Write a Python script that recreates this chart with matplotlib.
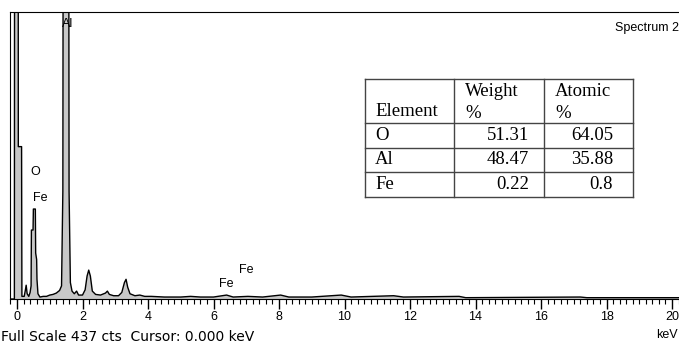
# EDS spectrum with composition table
import numpy as np
import matplotlib.pyplot as plt
from matplotlib.ticker import MultipleLocator

# spectrum outline (keV, counts); 2000 = off scale
energy = [-0.20, -0.08, -0.06, 0.03, 0.04, 0.14, 0.15, 0.22, 0.25, 0.28, 0.31, 0.36,
          0.40, 0.43, 0.44, 0.49, 0.50, 0.56, 0.57, 0.60, 0.61, 0.64, 0.70, 0.80, 0.90,
          1.00, 1.10, 1.20, 1.30, 1.36, 1.40, 1.44, 1.55, 1.59, 1.63, 1.68, 1.75,
          1.82, 1.88, 2.00, 2.08, 2.14, 2.19, 2.24, 2.30, 2.40, 2.55, 2.70, 2.76,
          2.82, 2.95, 3.10, 3.20, 3.28, 3.33, 3.38, 3.45, 3.60, 3.75, 3.90, 4.10,
          4.50, 5.00, 5.30, 5.60, 6.00, 6.40, 6.60, 7.05, 7.50, 8.05, 8.30, 9.00,
          9.90, 10.2, 11.5, 11.8, 13.5, 13.7, 17.2, 17.4, 20.3]
counts = [0, 0, 2000, 2000, 232, 232, 4, 4, 12, 21, 8, 4,
          10, 20, 105, 105, 137, 137, 70, 60, 30, 8, 3, 4, 4,
          6, 7, 9, 13, 20, 164, 2000, 2000, 164, 25, 12, 8,
          12, 6, 6, 14, 35, 44, 35, 12, 7, 6, 9, 12,
          7, 5, 5, 10, 25, 30, 18, 8, 5, 6, 4, 4,
          3, 3, 4, 3, 3, 6, 3, 4, 3, 6, 3, 3,
          6, 3, 5, 3, 4, 2, 3, 2, 2]

# peak labels
peak_labels = ['Al', 'O', 'Fe', 'Fe', 'Fe']
label_x = [1.55, 0.55, 0.72, 6.4, 7.0]
label_y = [410, 184, 144, 13, 35]

# quantification table
elements = ['O', 'Al', 'Fe']
weight_pct = ['51.31', '48.47', '0.22']
atomic_pct = ['64.05', '35.88', '0.8']

plt.rcParams['font.family'] = ['Liberation Sans', 'DejaVu Sans']

W, H = 679, 343
fig = plt.figure(figsize=(W / 100, H / 100), dpi=100)
x0, x1, ytop, ybase = 10, 681, 12, 299
ax = fig.add_axes([x0 / W, 1 - ybase / H, (x1 - x0) / W, (ybase - ytop) / H])

kev_per_px = 1 / 32.75
ax.set_xlim(-7 * kev_per_px, (x1 - 17) * kev_per_px)
ax.set_ylim(0, 437)

ax.fill_between(energy, counts, color='#c8c8c8', lw=0)
ax.plot(energy, counts, color='black', lw=1)

for s, xx, yy in zip(peak_labels, label_x, label_y):
    ax.text(xx, yy, s, fontsize=9, ha='center', va='bottom')

ax.text(0.997, 0.965, 'Spectrum 2', transform=ax.transAxes, fontsize=9,
        ha='right', va='top')

ax.spines['right'].set_visible(False)
ax.set_yticks([])
ax.xaxis.set_major_locator(MultipleLocator(2))
ax.xaxis.set_minor_locator(MultipleLocator(0.2))
ax.tick_params(axis='x', which='major', direction='out', length=7, width=1,
               labelsize=9, pad=2)
ax.tick_params(axis='x', which='minor', direction='out', length=3.5, width=0.8)

fig.text(1 / W, 1 - 337 / H, 'Full Scale 437 cts  Cursor: 0.000 keV', fontsize=10,
         family='DejaVu Sans', ha='left', va='center')
fig.text(678 / W, 1 - 335 / H, 'keV', fontsize=9, ha='right', va='center')

# table drawn in pixel coordinates
cols = [365, 454, 544, 633]
rows = [79, 123, 148, 172, 197]
line_kw = dict(color='#444444', lw=1, transform=None)
for cx in cols:
    fig.add_artist(plt.Line2D([cx, cx], [H - rows[0], H - rows[-1]], **line_kw))
for ry in rows:
    fig.add_artist(plt.Line2D([cols[0], cols[-1]], [H - ry, H - ry], **line_kw))

serif = ['Liberation Serif', 'DejaVu Serif']
tsize = 13.5


def put(px, py, s, ha='left'):
    fig.text(px / W, 1 - py / H, s, fontsize=tsize, family=serif, ha=ha, va='center')


put(375, 112, 'Element')
put(465, 91, 'Weight')
put(465, 113, '%')
put(555, 91, 'Atomic')
put(555, 113, '%')
for i, el in enumerate(elements):
    yc = (rows[i + 1] + rows[i + 2]) / 2
    put(375, yc, el)
    put(529, yc, weight_pct[i], ha='right')
    put(613, yc, atomic_pct[i], ha='right')

fig.savefig('out.png', dpi=100)
